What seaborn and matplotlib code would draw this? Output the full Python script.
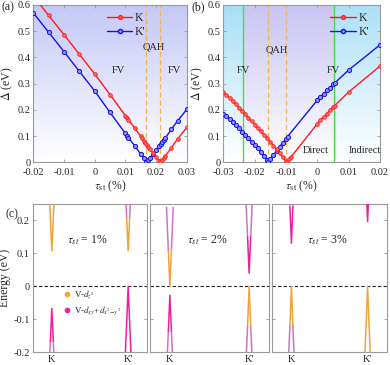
import numpy as np
import matplotlib
matplotlib.use("Agg")
import matplotlib.pyplot as plt
from matplotlib.lines import Line2D
import seaborn as sns

# ---- data: panel (a) ----
tau_a_K = [-0.02, -0.015, -0.01, -0.005, 0.0, 0.005, 0.01, 0.0105, 0.011, 0.013, 0.015, 0.0155,
           0.016, 0.0165, 0.017, 0.0175, 0.018, 0.019, 0.02, 0.021, 0.0214, 0.022, 0.0225,
           0.023, 0.025, 0.027, 0.03]
delta_a_K = [0.635, 0.560, 0.487, 0.412, 0.337, 0.258, 0.178, 0.170, 0.162, 0.131, 0.099, 0.091,
             0.083, 0.075, 0.067, 0.059, 0.051, 0.035, 0.020, 0.006, 0.0, 0.009, 0.017,
             0.024, 0.056, 0.089, 0.133]
tau_a_Kp = [-0.02, -0.015, -0.01, -0.005, 0.0, 0.005, 0.01, 0.0105, 0.011, 0.013, 0.015, 0.016,
            0.0168, 0.0175, 0.018, 0.019, 0.02, 0.021, 0.0215, 0.022, 0.0225, 0.023, 0.025,
            0.027, 0.03]
delta_a_Kp = [0.570, 0.496, 0.422, 0.347, 0.272, 0.190, 0.110, 0.102, 0.094, 0.063, 0.031, 0.015,
              0.0, 0.009, 0.017, 0.033, 0.048, 0.063, 0.071, 0.078, 0.086, 0.093, 0.126,
              0.158, 0.202]
qah_a = [0.0168, 0.0214]

# ---- data: panel (b) ----
tau_b_K = [-0.030, -0.029, -0.028, -0.027, -0.026, -0.025, -0.024, -0.023, -0.022, -0.021,
           -0.020, -0.019, -0.018, -0.017, -0.016, -0.015, -0.014, -0.013, -0.012, -0.011,
           -0.010, -0.0098, -0.009, -0.0085, 0.0, 0.001, 0.002, 0.003, 0.004, 0.005, 0.0055,
           0.010, 0.020]
delta_b_K = [0.267, 0.256, 0.245, 0.233, 0.221, 0.209, 0.196, 0.183, 0.170, 0.157,
             0.144, 0.131, 0.118, 0.105, 0.092, 0.078, 0.064, 0.049, 0.034, 0.019,
             0.004, 0.0, 0.012, 0.019, 0.147, 0.160, 0.173, 0.186, 0.198, 0.210, 0.216,
             0.268, 0.367]
tau_b_Kp = [-0.030, -0.029, -0.028, -0.027, -0.026, -0.025, -0.024, -0.023, -0.022, -0.021,
            -0.020, -0.019, -0.018, -0.017, -0.016, -0.0158, -0.015, -0.014, -0.013, -0.012,
            -0.011, -0.010, -0.0095, 0.0, 0.001, 0.002, 0.003, 0.004, 0.005, 0.0055,
            0.010, 0.020]
delta_b_Kp = [0.186, 0.175, 0.164, 0.152, 0.141, 0.129, 0.117, 0.105, 0.092, 0.079,
              0.066, 0.053, 0.039, 0.025, 0.009, 0.0, 0.012, 0.028, 0.044, 0.060,
              0.075, 0.090, 0.098, 0.237, 0.250, 0.262, 0.274, 0.285, 0.297, 0.302,
              0.352, 0.448]
qah_b = [-0.0158, -0.0099]
fv_b = [-0.0237, 0.0052]

# ---- data: panel (c) band edges, k positions around K and K' ----
k_K = [0.139, 0.154, 0.167, 0.180, 0.195]
k_Kp = [0.805, 0.820, 0.833, 0.846, 0.861]
strains_c = ["1%", "2%", "3%"]
# each entry: (k list, energies, arm colour key, tip colour key)
bands_1 = [(k_K, [0.318, 0.208, 0.108, 0.208, 0.318], "or", "or"),
           (k_K, [-0.277, -0.167, -0.067, -0.167, -0.277], "li", "ma"),
           (k_Kp, [0.318, 0.208, 0.108, 0.208, 0.318], "li", "or"),
           (k_Kp, [-0.230, -0.110, 0.0, -0.110, -0.230], "ma", "ma")]
bands_2 = [(k_K, [0.240, 0.110, 0.0, 0.110, 0.240], "li", "or"),
           (k_K, [-0.257, -0.137, -0.027, -0.137, -0.257], "li", "ma"),
           (k_Kp, [0.270, 0.150, 0.040, 0.150, 0.270], "li", "ma"),
           (k_Kp, [-0.240, -0.120, 0.0, -0.120, -0.240], "li", "or")]
bands_3 = [(k_K, [0.361, 0.241, 0.131, 0.241, 0.361], "li", "ma"),
           (k_K, [-0.240, -0.120, 0.0, -0.120, -0.240], "li", "or"),
           (k_Kp, [0.427, 0.307, 0.197, 0.307, 0.427], "ma", "ma"),
           (k_Kp, [-0.240, -0.120, 0.0, -0.120, -0.240], "or", "or")]
bands_c = [bands_1, bands_2, bands_3]

band_colors = {"or": "#F2A23A", "ma": "#E8229C", "li": "#CC74C4"}
red = "#FF1A1A"
blue = "#1414E6"

sns.set_style("ticks")
plt.rcParams["font.family"] = ["Liberation Serif", "DejaVu Serif"]
plt.rcParams["mathtext.fontset"] = "stix"
plt.rcParams["axes.unicode_minus"] = False
plt.rcParams["font.size"] = 7.5

W, H = 390, 365
fig = plt.figure(figsize=(W / 100, H / 100), dpi=100)


def px_axes(x0, x1, y0, y1):
    return fig.add_axes([x0 / W, 1 - y1 / H, (x1 - x0) / W, (y1 - y0) / H])


def gradient_bg(ax, xlim, regions):
    # regions: list of (x_start, x_end, top_rgb)
    ny = 100
    t = np.linspace(0, 1, ny)[:, None]
    for xs, xe, top in regions:
        top = np.array(top) / 255.0
        img = np.ones((ny, 2, 3))
        img[:] = (1 - t[..., None]) * 1.0 + t[..., None] * top
        ax.imshow(img, extent=[xs, xe, 0, 0.6], origin="lower", aspect="auto",
                  zorder=0, interpolation="bilinear")
    ax.set_xlim(xlim)
    ax.set_ylim(0, 0.6)


def style_ax(ax, fs=7.5):
    for s in ax.spines.values():
        s.set_color("#9A9A9A")
        s.set_linewidth(0.8)
    ax.tick_params(direction="in", top=True, right=True, length=2.5, width=0.6,
                   color="#9A9A9A", labelsize=fs, pad=2)


def fmt(v, pos=None):
    return "%g" % round(v, 4)


def curves(ax, tk, dk, tkp, dkp, anchor):
    sns.lineplot(x=tk, y=dk, ax=ax, color=red, lw=1.0, marker="o", markersize=2.6,
                 markerfacecolor="#FF7070", markeredgecolor=red, markeredgewidth=0.6,
                 sort=False, estimator=None, zorder=4)
    sns.lineplot(x=tkp, y=dkp, ax=ax, color=blue, lw=1.0, marker="o", markersize=3.0,
                 markerfacecolor="#9090FF", markeredgecolor=blue, markeredgewidth=0.7,
                 sort=False, estimator=None, zorder=3)
    h = [Line2D([], [], color=red, lw=1.0, marker="o", ms=2.6, mfc="#FF7070", mec=red),
         Line2D([], [], color=blue, lw=1.0, marker="o", ms=3.0, mfc="#9090FF", mec=blue)]
    ax.legend(h, ["K", "K'"], loc="upper right", frameon=False, fontsize=8.5,
              handlelength=2.2, handletextpad=0.2, labelspacing=0.15,
              bbox_to_anchor=anchor)


# ---------- panel (a) ----------
ax_a = px_axes(33.3, 186.8, 5, 162.3)
gradient_bg(ax_a, (-0.02, 0.03), [(-0.02, 0.03, (196, 200, 246))])
curves(ax_a, tau_a_K, delta_a_K, tau_a_Kp, delta_a_Kp, (0.80, 1.02))
for q in qah_a:
    ax_a.axvline(q, color="#F4B448", ls=(0, (4, 2.5)), lw=0.9, zorder=2)
ax_a.text(0.0076, 0.352, "FV", ha="center", va="center", fontsize=7.5)
ax_a.text(0.0191, 0.438, "QAH", ha="center", va="center", fontsize=7.5)
ax_a.text(0.0259, 0.352, "FV", ha="center", va="center", fontsize=7.5)

# ---------- panel (b) ----------
ax_b = px_axes(223.3, 380.0, 5, 162.3)
gradient_bg(ax_b, (-0.03, 0.02), [(-0.03, fv_b[0], (168, 222, 246)),
                                  (fv_b[0], fv_b[1], (200, 196, 242)),
                                  (fv_b[1], 0.02, (172, 224, 248))])
curves(ax_b, tau_b_K, delta_b_K, tau_b_Kp, delta_b_Kp, (1.0, 1.02))
for q in qah_b:
    ax_b.axvline(q, color="#F4B448", ls=(0, (4, 2.5)), lw=0.9, zorder=2)
for f in fv_b:
    ax_b.axvline(f, color="#44E044", lw=1.0, zorder=2)
ax_b.text(-0.0236, 0.352, "FV", ha="center", va="center", fontsize=7.5)
ax_b.text(-0.0128, 0.428, "QAH", ha="center", va="center", fontsize=7.5)
ax_b.text(0.0052, 0.352, "FV", ha="center", va="center", fontsize=7.5)
ax_b.text(-0.0004, 0.045, "Direct", ha="center", va="center", fontsize=7.5)
ax_b.text(0.0150, 0.045, "Indirect", ha="center", va="center", fontsize=7.5)

for ax, ticks in ((ax_a, [-0.02, -0.01, 0, 0.01, 0.02, 0.03]),
                  (ax_b, [-0.03, -0.02, -0.01, 0, 0.01, 0.02])):
    style_ax(ax)
    ax.tick_params(axis="x", pad=4)
    ax.set_xticks(ticks)
    ax.set_yticks([0, 0.1, 0.2, 0.3, 0.4, 0.5, 0.6])
    ax.xaxis.set_major_formatter(plt.FuncFormatter(fmt))
    ax.yaxis.set_major_formatter(plt.FuncFormatter(fmt))
    ax.set_xlabel(r"$\tau_{\rm st}$ (%)", fontsize=8.5, labelpad=1)
    ax.set_ylabel(r"$\Delta$ (eV)", fontsize=8.5, labelpad=2)

# ---------- panel (c) ----------
c_edges = [(32.7, 147.3), (150.0, 269.0), (272.3, 386.7)]
for i, (x0, x1) in enumerate(c_edges):
    ax = px_axes(x0, x1, 204, 352.3)
    ax.set_xlim(0, 1)
    ax.set_ylim(-0.2, 0.25)
    ax.axhline(0, color="#202020", ls=(0, (3, 2)), lw=0.8, zorder=1)
    for kk, ee, arm, tip in bands_c[i]:
        for a, b in ((0, 1), (3, 4)):
            sns.lineplot(x=kk[a:b + 1], y=ee[a:b + 1], ax=ax, color=band_colors[arm],
                         lw=1.1, sort=False, estimator=None, zorder=3)
        sns.lineplot(x=kk[1:4], y=ee[1:4], ax=ax, color=band_colors[tip],
                     lw=1.1, sort=False, estimator=None, zorder=3)
    ax.text(0.48, 0.141, r"$\tau_{st}$ = " + strains_c[i], ha="center", va="center",
            fontsize=8.5)
    style_ax(ax)
    ax.set_xticks([0.167, 0.833])
    ax.set_xticklabels(["K", "K'"])
    ax.set_yticks([-0.2, -0.1, 0, 0.1, 0.2])
    ax.tick_params(axis="x", length=0, pad=2)
    if i == 0:
        ax.yaxis.set_major_formatter(plt.FuncFormatter(fmt))
        ax.set_ylabel("Energy (eV)", fontsize=8.5, labelpad=2)
        h = [Line2D([], [], ls="", marker="o", ms=3, color=band_colors["or"]),
             Line2D([], [], ls="", marker="o", ms=3, color=band_colors["ma"])]
        ax.legend(h, [r"V-$d_{z^2}$", r"V-$d_{xy}$+$d_{x^2\!-\!y^2}$"],
                  loc="upper left", bbox_to_anchor=(0.22, 0.47), frameon=False,
                  fontsize=6.5, handlelength=0.8, handletextpad=0.4,
                  labelspacing=0.4, borderpad=0.1)
    else:
        ax.set_yticklabels([])
    ax.set_xlabel("")

fig.text(2 / W, 1 - 7 / H, "(a)", fontsize=8.5, va="center", ha="left")
fig.text(192 / W, 1 - 7 / H, "(b)", fontsize=8.5, va="center", ha="left")
fig.text(6 / W, 1 - 214 / H, "(c)", fontsize=8.5, va="center", ha="left")

fig.savefig("out.png", dpi=100)
